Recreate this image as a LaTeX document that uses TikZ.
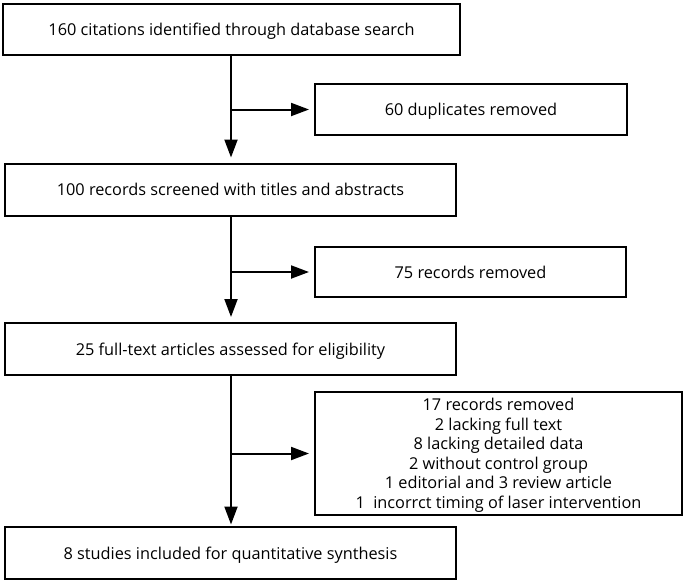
\documentclass[tikz,border=0pt]{standalone}
\usepackage{fontspec}
\setmainfont{Open Sans}
\usetikzlibrary{arrows.meta}

\begin{document}
\begin{tikzpicture}[x=1pt,y=-1pt,
  box/.style={draw,line width=2pt,minimum height=51pt,inner sep=0pt,align=center,
    text depth=0pt,font=\fontsize{16.3}{19.5}\selectfont},
  flow/.style={line width=2pt,shorten >=5pt,-{Triangle[length=18pt,width=13pt]}}]
  \useasboundingbox (0,0) rectangle (685,582);
  % main column
  \node[box,minimum width=457pt] (ident) at (231.5,29) {160 citations identified through database search};
  \node[box,minimum width=451pt,minimum height=52pt] (screen) at (230.5,189.5) {100 records screened with titles and abstracts};
  \node[box,minimum width=451pt,minimum height=52pt] (elig) at (230.5,349) {25 full-text articles assessed for eligibility};
  \node[box,minimum width=451pt,minimum height=52pt] (incl) at (230.5,553) {8 studies included for quantitative synthesis};
  % excluded
  \node[box,minimum width=312pt] (dupl) at (471,109.5) {60 duplicates removed};
  \node[box,minimum width=311pt,minimum height=50pt] (remA) at (470.5,272) {75 records removed};
  \node[box,minimum width=367pt,minimum height=123pt] (remB) at (498.5,453.5) {17 records removed\\
    2 lacking full text\\
    8 lacking detailed data\\
    2 without control group\\
    1 editorial and 3 review article\\
    1~~incorrct timing of laser intervention};
  \coordinate (b1) at (231,109.5);
  \coordinate (b2) at (231,272);
  \coordinate (b3) at (231,453.5);
  \path[flow]
    (ident.south -| b1) edge (screen.north -| b1)
    (screen.south -| b1) edge (elig.north -| b1)
    (elig.south -| b1) edge[shorten >=1.5pt] (incl.north -| b1)
    (b1) edge (dupl.west)
    (b2) edge (remA.west)
    (b3) edge (remB.west);
\end{tikzpicture}
\end{document}
